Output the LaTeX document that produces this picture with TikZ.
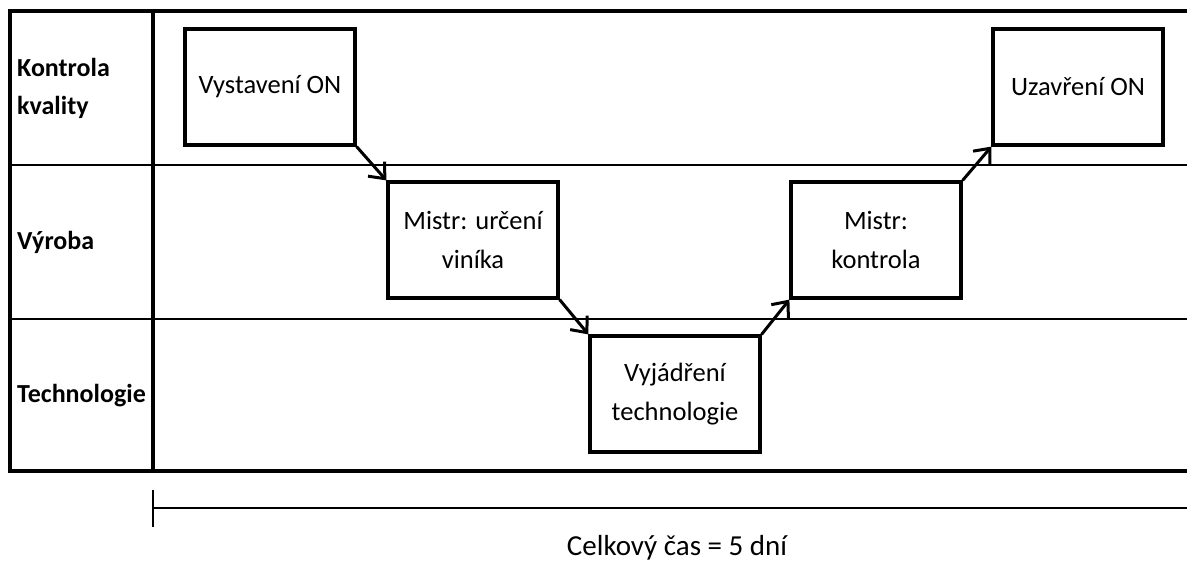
\documentclass[tikz,border=0pt]{standalone}
\usepackage{fontspec}
\setmainfont{Carlito}
\usetikzlibrary{arrows.meta}

\begin{document}
\begin{tikzpicture}[x=1pt,y=-1pt,
  box/.style={draw, line width=3.2pt, minimum width=170pt, minimum height=116pt, align=center, font=\fontsize{26.5}{39}\selectfont},
  flow/.style={line width=3pt, -{Straight Barb[length=13pt,width=22pt,line width=3pt]}},
  lane/.style={anchor=west, align=left, inner sep=0pt, font=\fontsize{26}{38}\selectfont\bfseries}]
\useasboundingbox (0,0) rectangle (1187,565);
\draw[line width=3.6pt] (1187,11) -- (10,11) -- (10,471) -- (1187,471);
\draw[line width=3.6pt] (153,11) -- (153,471);
\draw[line width=1.6pt] (10,165) -- (1187,165);
\draw[line width=1.6pt] (10,319) -- (1187,319);
\node[lane] (kvalita) at (17,88) {Kontrola\\kvality};
\node[lane] (vyroba) at (17,242) {Výroba};
\node[lane] (technologie) at (17,396) {Technologie};
\node[box] (vystaveni) at (270,87) {Vystavení ON};
\node[box] (urceni) at (473,240) {Mistr: určení\\viníka};
\node[box] (vyjadreni) at (675,394) {Vyjádření\\technologie};
\node[box] (kontrola) at (876,240) {Mistr:\\kontrola};
\node[box] (uzavreni) at (1078,87) {Uzavření ON};
\draw[flow] (vystaveni.south east) -- (urceni.north west);
\draw[flow] (urceni.south east) -- (vyjadreni.north west);
\draw[flow] (vyjadreni.north east) -- (kontrola.south west);
\draw[flow] (kontrola.north east) -- (uzavreni.south west);
\draw[line width=1.6pt] (153,490) -- (153,527);
\draw[line width=1.6pt] (153,508) -- (1187,508);
\node[font=\fontsize{29}{34}\selectfont] (celkem) at (677,548) {Celkový čas = 5 dní};
\end{tikzpicture}
\end{document}
